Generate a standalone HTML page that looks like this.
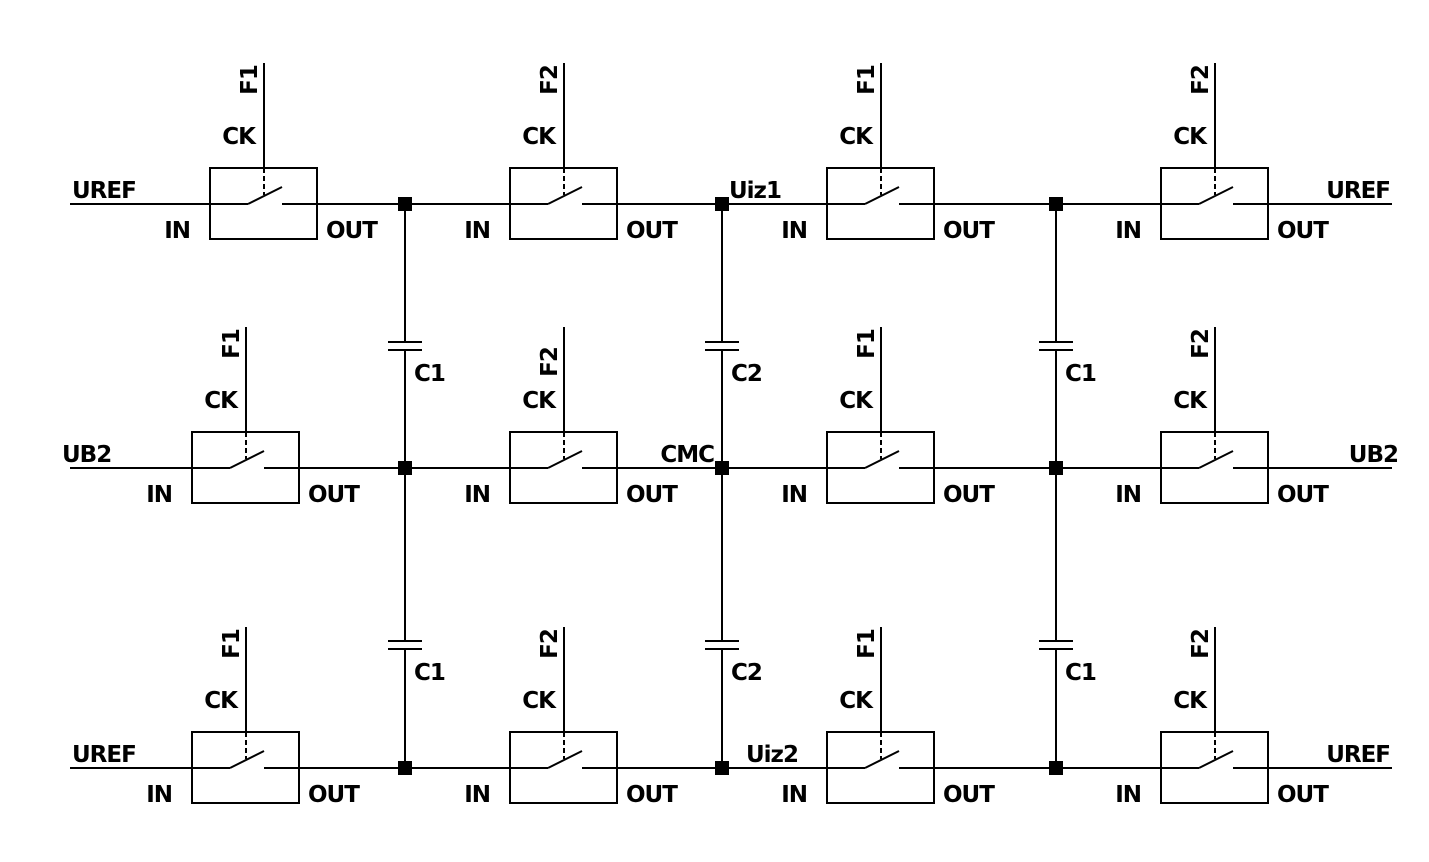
<!DOCTYPE html>
<html><head><meta charset="utf-8"><style>
html,body{margin:0;padding:0;background:#fff;}
svg{display:block;}
text{font-family:"DejaVu Sans","Liberation Sans",sans-serif;font-weight:bold;font-size:23px;letter-spacing:-1px;fill:#000;}
</style></head><body>
<svg id="sch" width="1429" height="862" viewBox="0 0 1429 862" xmlns="http://www.w3.org/2000/svg"></svg>
<script>
const rowsY = [204, 468, 768];
const boxLefts = [[210,510,827,1161],[192,510,827,1161],[192,510,827,1161]];
const phases = [["F1","F2","F1","F2"],["F1","F2","F1","F2"],["F1","F2","F1","F2"]];
const capX = [405, 722, 1056];
const capLabels = [["C1","C2","C1"],["C1","C2","C1"]];
const capPlateY = [342, 641];
const leftLabels = ["UREF","UB2","UREF"];
const rightLabels = ["UREF","UB2","UREF"];
const svg = document.getElementById('sch');
const NS = 'http://www.w3.org/2000/svg';
function mk(tag, attrs, name){
  const e = document.createElementNS(NS, tag);
  for (const k in attrs) e.setAttribute(k, attrs[k]);
  
  
  svg.appendChild(e);
  return e;
}
function line(x1,y1,x2,y2,name,extra){
  const a = {x1,y1,x2,y2,stroke:'#000','stroke-width':2};
  if (extra) Object.assign(a, extra);
  return mk('line', a, name);
}
function txt(x,y,s,name,anchor,tr){
  const a = {x,y};
  if (anchor) a['text-anchor']=anchor;
  if (tr) a.transform=tr;
  const t = mk('text', a, name);
  t.textContent = s;
  return t;
}
rowsY.forEach((y, r) => {
  let prev = 70;
  boxLefts[r].forEach((bx, c) => {
    line(prev, y, bx+38, y, 'wire-row'+(r+1));
    prev = bx+72;
    const ckx = bx+54;
    const top = y-36;
    mk('rect', {x:bx, y:top, width:107, height:71, fill:'none', stroke:'#000', 'stroke-width':2}, 'switch-box');
    line(bx+38, y, bx+72, y-17, 'switch-blade');
    line(ckx, top-105, ckx, top, 'clock-line');
    line(ckx, top, ckx, top+27, 'clock-link-dashed', {'stroke-dasharray':'5,3'});
    txt(ckx-9, top-24, 'CK', 'ck-label', 'end');
    const fy = (r===1 && c===1) ? top-105+35 : top-105+17;
    txt(0, 0, phases[r][c], 'phase-label', 'middle', `translate(${ckx-7},${fy}) rotate(-90)`);
    txt(bx-20, y+34, 'IN', 'in-label', 'end');
    txt(bx+9, y+34, 'OUT', 'out-label').setAttribute('x', bx+116);
  });
  line(prev, y, 1392, y, 'wire-row'+(r+1));
  txt(r===1 ? 62 : 72, y-6, leftLabels[r], 'left-terminal-label');
  txt(r===1 ? 1398 : 1390, y-6, rightLabels[r], 'right-terminal-label', 'end');
});
capX.forEach((x, i) => {
  for (let k = 0; k < 2; k++) {
    const y1 = rowsY[k], y2 = rowsY[k+1], py = capPlateY[k];
    line(x, y1, x, py, 'capacitor-lead');
    line(x-17, py, x+17, py, 'capacitor-plate');
    line(x-17, py+8, x+17, py+8, 'capacitor-plate');
    line(x, py+8, x, y2, 'capacitor-lead');
    txt(x+9, py+39, capLabels[k][i], 'capacitor-label');
  }
  rowsY.forEach(y => mk('rect', {x:x-7, y:y-7, width:14, height:14, fill:'#000'}, 'junction-node'));
});
txt(729, 198, 'Uiz1', 'node-label-uiz1');
txt(714, 462, 'CMC', 'node-label-cmc', 'end');
txt(746, 762, 'Uiz2', 'node-label-uiz2');
</script>
</body></html>
